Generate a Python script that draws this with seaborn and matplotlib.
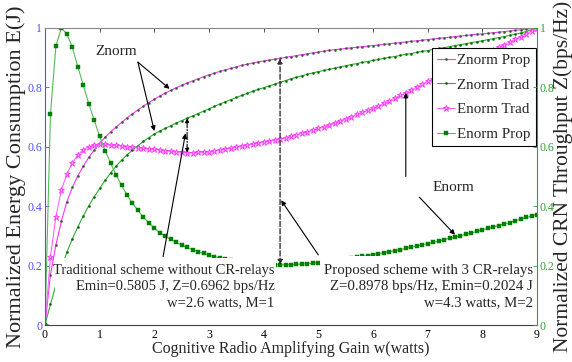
import numpy as np
import pandas as pd
import matplotlib
matplotlib.use("Agg")
import matplotlib.pyplot as plt
from matplotlib.patches import Rectangle
import seaborn as sns

# Cognitive radio amplifying gain w (watts), sampled every 0.1 W
w = np.round(np.linspace(0, 9, 91), 1)

# Normalized energy consumption, proposed scheme (3 CR-relays)
enorm_prop = [
    0.000, 0.710, 0.940, 1.000, 0.980, 0.935, 0.870, 0.808, 0.745, 0.690,
    0.635, 0.587, 0.545, 0.506, 0.470, 0.438, 0.410, 0.386, 0.363, 0.344,
    0.326, 0.311, 0.299, 0.288, 0.278, 0.269, 0.261, 0.254, 0.247, 0.241,
    0.235, 0.230, 0.226, 0.222, 0.219, 0.216, 0.213, 0.211, 0.209, 0.207,
    0.205, 0.204, 0.203, 0.2024, 0.2026, 0.2032, 0.2041, 0.2053, 0.2067, 0.2083,
    0.210, 0.212, 0.214, 0.216, 0.219, 0.222, 0.225, 0.228, 0.231, 0.234,
    0.237, 0.240, 0.243, 0.247, 0.250, 0.254, 0.258, 0.262, 0.266, 0.270,
    0.274, 0.278, 0.283, 0.287, 0.292, 0.296, 0.301, 0.305, 0.310, 0.315,
    0.320, 0.325, 0.330, 0.335, 0.340, 0.345, 0.351, 0.356, 0.362, 0.367,
    0.372,
]

# Normalized energy consumption, traditional scheme (no CR-relays)
enorm_trad = [
    0.000, 0.230, 0.365, 0.455, 0.508, 0.545, 0.572, 0.590, 0.600, 0.606,
    0.608, 0.608, 0.607, 0.605, 0.603, 0.601, 0.599, 0.597, 0.595, 0.593,
    0.591, 0.589, 0.587, 0.585, 0.583, 0.5815, 0.5805, 0.5806, 0.581, 0.582,
    0.583, 0.586, 0.589, 0.593, 0.596, 0.600, 0.603, 0.607, 0.610, 0.614,
    0.617, 0.620, 0.624, 0.627, 0.631, 0.636, 0.641, 0.646, 0.651, 0.656,
    0.662, 0.668, 0.675, 0.681, 0.688, 0.695, 0.702, 0.709, 0.716, 0.723,
    0.730, 0.738, 0.747, 0.755, 0.764, 0.773, 0.782, 0.792, 0.801, 0.811,
    0.820, 0.829, 0.838, 0.848, 0.857, 0.866, 0.875, 0.884, 0.893, 0.901,
    0.910, 0.919, 0.927, 0.936, 0.944, 0.953, 0.962, 0.971, 0.981, 0.990,
    1.000,
]

# Normalized CRN throughput, proposed scheme
znorm_prop = [
    0.000, 0.170, 0.270, 0.350, 0.415, 0.463, 0.502, 0.535, 0.564, 0.589,
    0.612, 0.632, 0.650, 0.667, 0.682, 0.697, 0.711, 0.724, 0.737, 0.749,
    0.760, 0.771, 0.781, 0.790, 0.799, 0.807, 0.815, 0.822, 0.829, 0.836,
    0.842, 0.848, 0.854, 0.859, 0.864, 0.869, 0.874, 0.878, 0.882, 0.886,
    0.889, 0.892, 0.895, 0.8978, 0.901, 0.904, 0.907, 0.910, 0.913, 0.916,
    0.919, 0.922, 0.925, 0.927, 0.929, 0.931, 0.933, 0.935, 0.937, 0.939,
    0.941, 0.943, 0.945, 0.947, 0.949, 0.951, 0.953, 0.955, 0.957, 0.959,
    0.961, 0.963, 0.965, 0.967, 0.969, 0.971, 0.973, 0.975, 0.977, 0.979,
    0.980, 0.982, 0.984, 0.986, 0.988, 0.990, 0.992, 0.994, 0.996, 0.998,
    1.000,
]

# Normalized CRN throughput, traditional scheme
znorm_trad = [
    0.000, 0.070, 0.135, 0.192, 0.245, 0.290, 0.330, 0.367, 0.401, 0.432,
    0.460, 0.487, 0.512, 0.535, 0.555, 0.573, 0.589, 0.604, 0.618, 0.631,
    0.643, 0.653, 0.662, 0.671, 0.680, 0.688, 0.6962, 0.704, 0.712, 0.720,
    0.728, 0.736, 0.744, 0.752, 0.759, 0.766, 0.773, 0.780, 0.787, 0.793,
    0.799, 0.805, 0.811, 0.817, 0.823, 0.829, 0.834, 0.839, 0.844, 0.849,
    0.853, 0.857, 0.861, 0.865, 0.869, 0.873, 0.877, 0.880, 0.884, 0.887,
    0.891, 0.894, 0.898, 0.901, 0.904, 0.908, 0.911, 0.914, 0.918, 0.921,
    0.924, 0.928, 0.931, 0.934, 0.937, 0.941, 0.944, 0.947, 0.951, 0.954,
    0.957, 0.961, 0.964, 0.968, 0.971, 0.975, 0.979, 0.983, 0.988, 0.994,
    1.000,
]

x_ticks = [0, 1, 2, 3, 4, 5, 6, 7, 8, 9]
y_ticks = [0, 0.2, 0.4, 0.6, 0.8, 1.0]
y_tick_labels = ["0", "0.2", "0.4", "0.6", "0.8", "1"]

# operating points quoted in the text boxes
w_trad_opt, w_prop_opt = 2.6, 4.3
i_trad = int(round(w_trad_opt * 10))
i_prop = int(round(w_prop_opt * 10))

df = pd.DataFrame({"w": w, "Znorm Prop": znorm_prop, "Znorm Trad": znorm_trad,
                   "Enorm Trad": enorm_trad, "Enorm Prop": enorm_prop})

sns.set_style("white")
plt.rcParams["font.family"] = ["Liberation Serif", "DejaVu Serif"]

fig = plt.figure(figsize=(5.72, 3.62), dpi=100)
ax = fig.add_axes([45 / 572, 37 / 362, 492 / 572, 297 / 362])
ax2 = ax.twinx()

common = dict(ax=ax, errorbar=None, sort=False, linewidth=0.8)
sns.lineplot(data=df, x="w", y="Znorm Prop", color="#ff33ff", marker=".",
             markersize=3, markerfacecolor="#305a30", markeredgecolor="#305a30",
             markeredgewidth=0.3, label="Znorm Prop", **common)
sns.lineplot(data=df, x="w", y="Znorm Trad", color="#33aa33", marker=".",
             markersize=3, markerfacecolor="#006600", markeredgecolor="#006600",
             markeredgewidth=0.3, label="Znorm Trad", **common)
sns.lineplot(data=df, x="w", y="Enorm Trad", color="#ff66ff", marker="*",
             markersize=4.5, markerfacecolor="#ffaaff", markeredgecolor="#ff33ff",
             markeredgewidth=0.6, label="Enorm Trad", **common)
sns.lineplot(data=df, x="w", y="Enorm Prop", color="#55bb55", marker="s",
             markersize=3.2, markerfacecolor="#008000", markeredgecolor="#008000",
             markeredgewidth=0.3, label="Enorm Prop", **common)

ax.set_xlim(0, 9)
ax.set_ylim(0, 1)
ax2.set_ylim(0, 1)
ax.set_xticks(x_ticks)
ax.set_xticklabels([str(t) for t in x_ticks])
ax.set_yticks(y_ticks)
ax.set_yticklabels(y_tick_labels)
ax2.set_yticks(y_ticks)
ax2.set_yticklabels(y_tick_labels)

blue = "#5050ff"
green = "#30a030"
ax.tick_params(axis="x", direction="in", length=3, width=0.6, top=True,
               labelsize=8.5, pad=3, colors="#333333", labelcolor="black")
ax.tick_params(axis="y", direction="in", length=3, width=0.6, colors=blue,
               labelsize=8.5, pad=2)
ax2.tick_params(axis="y", direction="in", length=3, width=0.6, colors=green,
                labelsize=8.5, pad=2)
ax.spines["left"].set_color(blue)
ax.spines["top"].set_color("#888888")
ax.spines["bottom"].set_color("#444444")
ax.spines["right"].set_visible(False)
ax2.spines["right"].set_color(green)
ax2.spines["left"].set_visible(False)
ax2.spines["top"].set_visible(False)
ax2.spines["bottom"].set_visible(False)
for s in ax.spines.values():
    s.set_linewidth(0.8)
ax2.spines["right"].set_linewidth(0.8)

ax.set_xlabel("Cognitive Radio Amplifying Gain w(watts)", fontsize=11.5, labelpad=0)
ax.set_ylabel("Normalized Energy Consumption E(J)", fontsize=16, labelpad=1)
ax2.set_ylabel("Normalized CRN Throughput Z(bps/Hz)", fontsize=15.5, labelpad=-1)

leg = ax.legend(loc="upper right", bbox_to_anchor=(0.997, 0.932), borderaxespad=0,
                fontsize=10.8, frameon=True, fancybox=False, framealpha=1,
                edgecolor="black", handlelength=1.2, handletextpad=0.1,
                labelspacing=0.75, borderpad=0.35, numpoints=1)
leg.get_frame().set_linewidth(0.8)
leg.set_zorder(10)

arrow_kw = dict(arrowstyle="-|>", color="black", lw=0.8, mutation_scale=7,
                shrinkA=0, shrinkB=0)

# Znorm labels
ax.text(1.3, 0.922, "Znorm", fontsize=11, ha="center", va="center", zorder=6)
ax.annotate("", xy=(2.28, znorm_prop[23] + 0.005), xytext=(1.7, 0.885),
            arrowprops=arrow_kw, zorder=6)
ax.annotate("", xy=(2.0, znorm_trad[20] + 0.01), xytext=(1.7, 0.885),
            arrowprops=arrow_kw, zorder=6)

# Enorm labels
ax.text(7.47, 0.463, "Enorm", fontsize=11, ha="center", va="center", zorder=6)
ax.annotate("", xy=(6.6, enorm_trad[66]), xytext=(6.6, 0.50),
            arrowprops=arrow_kw, zorder=6)
ax.annotate("", xy=(7.5, enorm_prop[75] + 0.008), xytext=(6.85, 0.43),
            arrowprops=arrow_kw, zorder=6)

# operating point markers: E and Z at the optimal gain of each scheme
ax.annotate("", xy=(w_prop_opt, znorm_prop[i_prop]), xytext=(w_prop_opt, enorm_prop[i_prop]),
            arrowprops=dict(arrowstyle="<|-|>", color="#333333", lw=1.0, ls="--",
                            mutation_scale=7, shrinkA=0, shrinkB=0), zorder=5)
ax.annotate("", xy=(w_trad_opt, znorm_trad[i_trad]), xytext=(w_trad_opt, enorm_trad[i_trad]),
            arrowprops=dict(arrowstyle="<|-|>", color="black", lw=0.8, ls="-.",
                            mutation_scale=6, shrinkA=0, shrinkB=0), zorder=5)

# white panels behind the scheme summaries
ax.add_patch(Rectangle((0.19, 0.004), 4.04, 0.222, facecolor="white",
                       edgecolor="none", zorder=6.5))
ax.add_patch(Rectangle((5.03, 0.004), 3.92, 0.229, facecolor="white",
                       edgecolor="none", zorder=6.5))

# scheme summaries
ax.text(4.2, 0.207,
        "Traditional scheme without CR-relays\nEmin=0.5805 J, Z=0.6962 bps/Hz\nw=2.6 watts, M=1",
        fontsize=10.5, ha="right", va="top", multialignment="right",
        linespacing=1.35, zorder=7)
ax.annotate("", xy=(2.57, 0.645), xytext=(2.16, 0.23), arrowprops=arrow_kw, zorder=8)

ax.text(8.93, 0.207,
        "Proposed scheme with 3 CR-relays\nZ=0.8978 bps/Hz, Emin=0.2024 J\nw=4.3 watts, M=2",
        fontsize=10.7, ha="right", va="top", multialignment="right",
        linespacing=1.35, zorder=7)
ax.annotate("", xy=(4.32, 0.42), xytext=(5.0, 0.236), arrowprops=arrow_kw, zorder=8)

fig.savefig("out.png", dpi=100)
